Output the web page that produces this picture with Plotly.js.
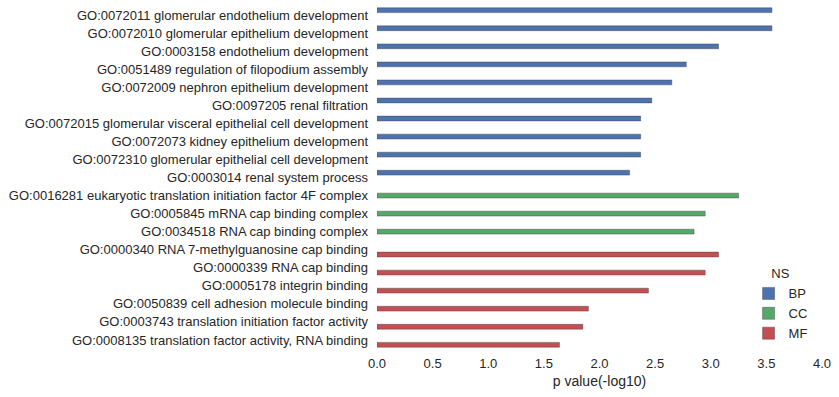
<!DOCTYPE html>
<html>
<head>
<meta charset="utf-8">
<script src="https://cdn.plot.ly/plotly-3.0.1.min.js"></script>
<style>html,body{margin:0;padding:0;background:#fff}#chart{width:839px;height:397px}</style>
</head>
<body>
<div id="chart"></div>
<script>
const categories = [
  "GO:0072011 glomerular endothelium development",
  "GO:0072010 glomerular epithelium development",
  "GO:0003158 endothelium development",
  "GO:0051489 regulation of filopodium assembly",
  "GO:0072009 nephron epithelium development",
  "GO:0097205 renal filtration",
  "GO:0072015 glomerular visceral epithelial cell development",
  "GO:0072073 kidney epithelium development",
  "GO:0072310 glomerular epithelial cell development",
  "GO:0003014 renal system process",
  "GO:0016281 eukaryotic translation initiation factor 4F complex",
  "GO:0005845 mRNA cap binding complex",
  "GO:0034518 RNA cap binding complex",
  "GO:0000340 RNA 7-methylguanosine cap binding",
  "GO:0000339 RNA cap binding",
  "GO:0005178 integrin binding",
  "GO:0050839 cell adhesion molecule binding",
  "GO:0003743 translation initiation factor activity",
  "GO:0008135 translation factor activity, RNA binding"
];
const namespace = ["BP","BP","BP","BP","BP","BP","BP","BP","BP","BP","CC","CC","CC","MF","MF","MF","MF","MF","MF"];
const pvalues = [3.55, 3.55, 3.07, 2.78, 2.65, 2.47, 2.37, 2.37, 2.37, 2.27, 3.25, 2.95, 2.85, 3.07, 2.95, 2.44, 1.90, 1.85, 1.64];
const groups = ["BP", "CC", "MF"];
const groupColors = {BP: "#4C72B0", CC: "#55A868", MF: "#C44E52"};
const tickValues = [0, 0.5, 1, 1.5, 2, 2.5, 3, 3.5, 4];
const tickLabels = ["0.0", "0.5", "1.0", "1.5", "2.0", "2.5", "3.0", "3.5", "4.0"];

const traces = groups.map(g => {
  const ys = [], xs = [];
  categories.forEach((c, i) => { if (namespace[i] === g) { ys.push(c); xs.push(pvalues[i]); } });
  return {
    type: "bar", orientation: "h", name: g, x: xs, y: ys,
    offsetgroup: g, alignmentgroup: "all",
    marker: {color: groupColors[g], line: {color: "rgba(70,70,70,0.45)", width: 1}},
    hoverinfo: "x+y"
  };
});

const font = {family: "Liberation Sans, Arial, sans-serif", size: 13, color: "#262626"};
const layout = {
  width: 839, height: 397,
  margin: {l: 377, r: 17, t: 6, b: 48},
  paper_bgcolor: "#fff", plot_bgcolor: "#fff",
  font: font,
  barmode: "group", bargap: 0.2, bargroupgap: 0,
  xaxis: {
    range: [0, 4], tickvals: tickValues, ticktext: tickLabels,
    showgrid: false, zeroline: false, showline: false, ticks: "",
    ticklabelstandoff: 5,
    title: {text: "p value(-log10)", font: {size: 14, color: "#262626"}, standoff: 6},
    tickfont: {size: 13, color: "#262626"}
  },
  yaxis: {
    type: "category", categoryorder: "array", categoryarray: categories,
    autorange: "reversed", range: [categories.length - 0.5, -0.5],
    showgrid: false, zeroline: false, showline: false, ticks: "",
    ticklabelstandoff: 8,
    tickfont: {size: 13, color: "#262626"}
  },
  legend: {
    title: {text: "NS", side: "top center", font: {size: 13, color: "#262626"}},
    x: 0.835, y: 0.255, xanchor: "left", yanchor: "top",
    bgcolor: "rgba(255,255,255,0)", font: {size: 13, color: "#262626"},
    tracegroupgap: 0
  },
  showlegend: true
};

Plotly.newPlot("chart", traces, layout, {displayModeBar: false, staticPlot: true});
</script>
</body>
</html>
